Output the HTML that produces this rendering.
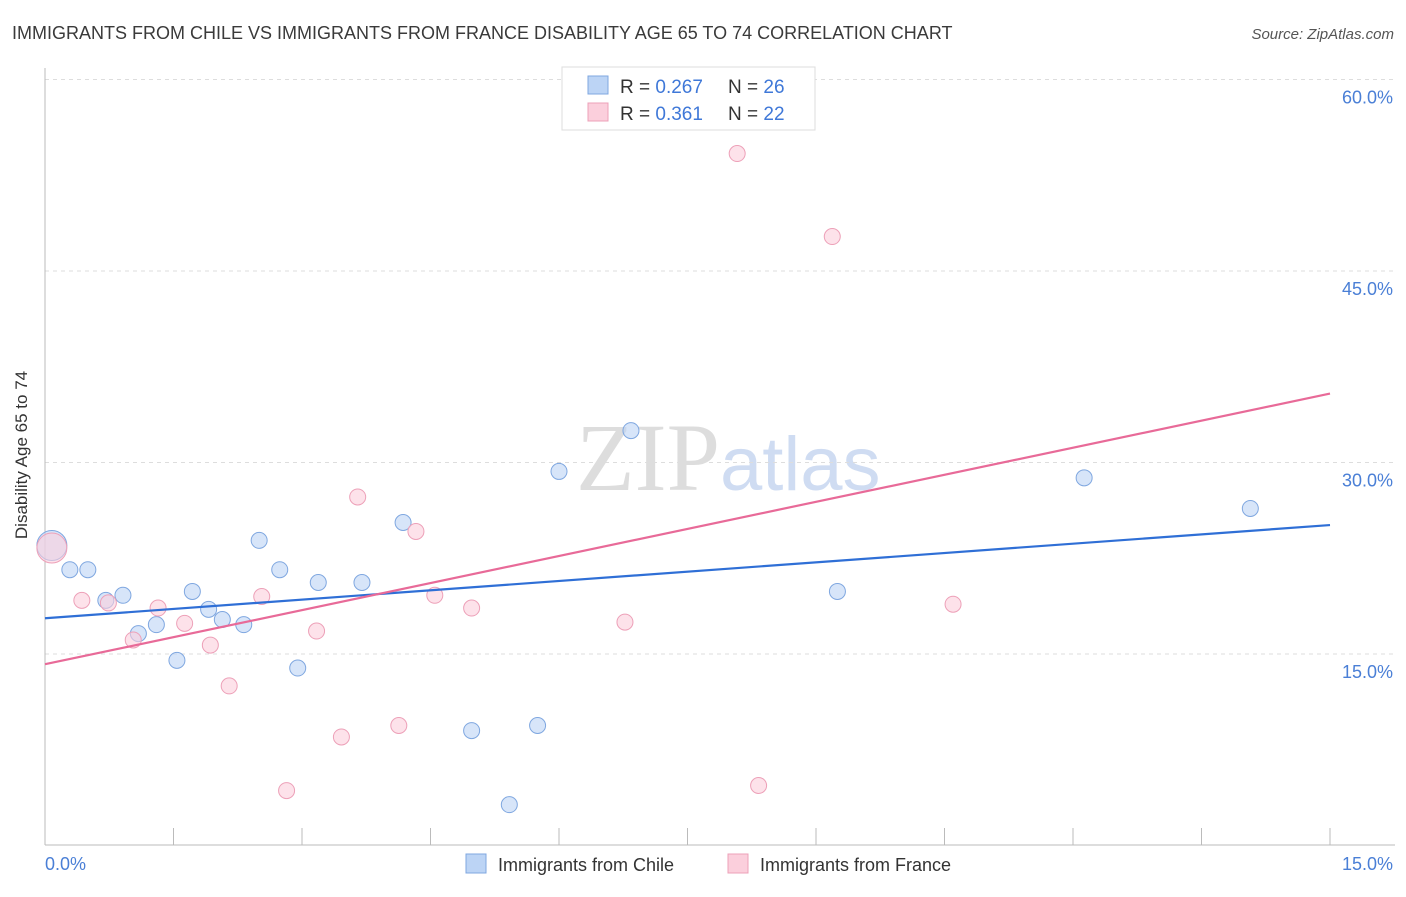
<!DOCTYPE html>
<html><head><meta charset="utf-8"><style>
body{margin:0;background:#fff;font-family:"Liberation Sans",sans-serif;}
</style></head><body>
<svg width="1406" height="892" xmlns="http://www.w3.org/2000/svg" style="font-family:'Liberation Sans',sans-serif">
<text x="12" y="39" font-size="18" fill="#3a3a3a">IMMIGRANTS FROM CHILE VS IMMIGRANTS FROM FRANCE DISABILITY AGE 65 TO 74 CORRELATION CHART</text>
<text x="1394" y="39" font-size="15" fill="#555" text-anchor="end" font-style="italic">Source: ZipAtlas.com</text>
<text x="720" y="490" font-size="96" fill="#ddd" text-anchor="end" font-family="Liberation Serif">ZIP</text>
<text x="720" y="490" font-size="76" fill="#cfdcf2">atlas</text>
<g id="grid"></g>
<line x1="45" y1="68" x2="45" y2="845" stroke="#bbb"/>
<line x1="45" y1="845" x2="1395" y2="845" stroke="#bbb"/>
<g id="ticks"></g>
<text x="27" y="455" font-size="17" fill="#333" text-anchor="middle" transform="rotate(-90 27 455)">Disability Age 65 to 74</text>
<text x="45" y="870" font-size="18" fill="#4a7fd6">0.0%</text>
<text x="1393" y="870" font-size="18" fill="#4a7fd6" text-anchor="end">15.0%</text>
<g id="marks"></g>
<g>
<rect x="562" y="67" width="253" height="63" fill="#fff" stroke="#ddd"/>
<rect x="588" y="76" width="20" height="18" fill="#bcd4f5" stroke="#7fa7e0"/>
<rect x="588" y="103" width="20" height="18" fill="#fbcfdc" stroke="#eda0b8"/>
<text x="620" y="93" font-size="19" fill="#333">R = <tspan fill="#3f78d8">0.267</tspan><tspan x="728">N = </tspan><tspan fill="#3f78d8">26</tspan></text>
<text x="620" y="120" font-size="19" fill="#333">R =  <tspan fill="#3f78d8">0.361</tspan><tspan x="728">N = </tspan><tspan fill="#3f78d8">22</tspan></text>
</g>
<g>
<rect x="466" y="854" width="20" height="19" fill="#bcd4f5" stroke="#7fa7e0"/>
<text x="498" y="871" font-size="18" fill="#333">Immigrants from Chile</text>
<rect x="728" y="854" width="20" height="19" fill="#fbcfdc" stroke="#eda0b8"/>
<text x="760" y="871" font-size="18" fill="#333">Immigrants from France</text>
</g>
</svg>
<script>
const yTicks=[15,30,45,60];
const yTickLabels=["15.0%","30.0%","45.0%","60.0%"];
const xTicks=[1.5,3,4.5,6,7.5,9,10.5,12,13.5,15];
const chileX=[0.08,0.29,0.50,0.71,0.91,1.09,1.30,1.54,1.72,1.91,2.07,2.32,2.50,2.74,2.95,3.19,3.70,4.18,4.98,5.42,5.75,6.00,6.84,9.25,12.13,14.07];
const chileY=[23.5,21.6,21.6,19.2,19.6,16.6,17.3,14.5,19.9,18.5,17.7,17.3,23.9,21.6,13.9,20.6,20.6,25.3,9.0,3.2,9.4,29.3,32.5,19.9,28.8,26.4];
const franceX=[0.08,0.43,0.74,1.03,1.32,1.63,1.93,2.15,2.53,2.82,3.17,3.46,3.65,4.13,4.33,4.55,4.98,6.77,8.08,8.33,9.19,10.60];
const franceY=[23.3,19.2,19.0,16.1,18.6,17.4,15.7,12.5,19.5,4.3,16.8,8.5,27.3,9.4,24.6,19.6,18.6,17.5,54.2,4.7,47.7,18.9];
const chileTrend=[17.8,25.1];
const franceTrend=[14.2,35.4];
const NS="http://www.w3.org/2000/svg";
const xs=v=>45+v/15*1285;
const ys=v=>845.5-v/15*191.5;
function mk(tag,attrs,parent){const e=document.createElementNS(NS,tag);for(const k in attrs)e.setAttribute(k,attrs[k]);document.getElementById(parent).appendChild(e);return e;}
yTicks.forEach((t,i)=>{
 const l=mk('line',{x1:45,x2:1395,y1:ys(t),y2:ys(t),stroke:'#ddd','stroke-dasharray':'4,4'},'grid');
 
 
 const tx=mk('text',{x:1393,y:ys(t)+24,'font-size':18,fill:'#4a7fd6','text-anchor':'end'},'grid');
 tx.textContent=yTickLabels[i];
 
 
});
xTicks.forEach(t=>{
 const l=mk('line',{x1:xs(t),x2:xs(t),y1:828,y2:845,stroke:'#bbb'},'ticks');
 
 
});
function pts(X,Y,fill,stroke,name){
 X.forEach((x,i)=>{
  const r=i===0?15:8;
  const c=mk('circle',{cx:xs(x),cy:ys(Y[i]),r:r,fill:fill,'fill-opacity':0.6,stroke:stroke,'stroke-width':1},'marks');
  
  
 });
}
pts(chileX,chileY,'#bcd4f5','#7fa7e0','chile-point');
pts(franceX,franceY,'#fbcfdc','#eda0b8','france-point');
let l1=mk('line',{x1:45,x2:1330,y1:ys(chileTrend[0]),y2:ys(chileTrend[1]),stroke:'#2f6fd6','stroke-width':2.2},'marks');


let l2=mk('line',{x1:45,x2:1330,y1:ys(franceTrend[0]),y2:ys(franceTrend[1]),stroke:'#e86a98','stroke-width':2.2},'marks');


</script>
</body></html>
